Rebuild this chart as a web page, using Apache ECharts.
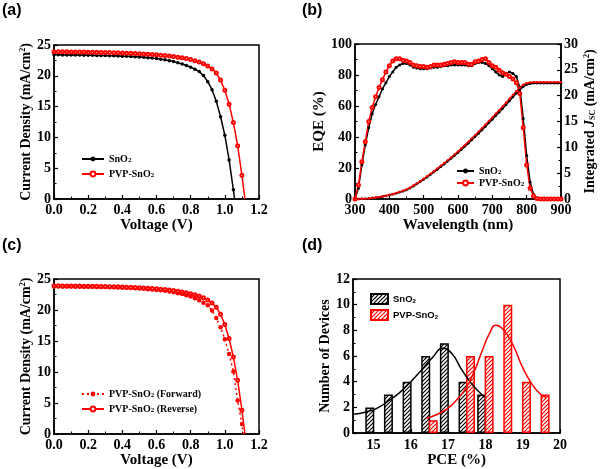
<!DOCTYPE html>
<html><head><meta charset="utf-8">
<script src="https://cdn.jsdelivr.net/npm/echarts@6/dist/echarts.min.js"></script>
<style>html,body{margin:0;padding:0;background:#fff}#c{width:600px;height:469px}</style>
</head><body><div id="c"></div>
<script>
// ---------- (a) / (c) J-V data ----------
const voltage = [0,0.025,0.05,0.075,0.1,0.125,0.15,0.175,0.2,0.225,0.25,0.275,0.3,0.325,0.35,0.375,0.4,0.425,0.45,0.475,0.5,0.525,0.55,0.575,0.6,0.625,0.65,0.675,0.7,0.725,0.75,0.775,0.8,0.825,0.85,0.875,0.9,0.925,0.95,0.975,1.0,1.025,1.05,1.075,1.1];
const jSnO2 = [23.40,23.40,23.39,23.39,23.38,23.37,23.36,23.35,23.34,23.33,23.31,23.30,23.28,23.26,23.24,23.22,23.19,23.16,23.13,23.09,23.05,23.00,22.94,22.87,22.79,22.70,22.59,22.46,22.31,22.13,21.92,21.67,21.40,21.08,20.68,20.05,19.05,17.75,15.85,13.35,10.35,6.35,1.50];
const jPVP = [23.90,23.90,23.89,23.89,23.88,23.87,23.86,23.85,23.84,23.83,23.82,23.80,23.79,23.77,23.75,23.73,23.71,23.68,23.65,23.62,23.59,23.55,23.51,23.46,23.41,23.35,23.29,23.21,23.13,23.03,22.92,22.79,22.64,22.46,22.24,21.96,21.60,21.12,20.45,19.30,17.65,15.40,12.40,8.65,3.85];
const jPVPForward = [23.80,23.80,23.79,23.79,23.78,23.77,23.76,23.75,23.74,23.73,23.72,23.70,23.69,23.67,23.65,23.63,23.60,23.57,23.54,23.50,23.46,23.41,23.36,23.30,23.24,23.17,23.09,22.98,22.85,22.72,22.57,22.39,22.17,21.90,21.57,21.15,20.75,19.90,18.70,17.20,15.30,12.90,10.10,5.40,1.60];
const jPVPReverse = jPVP;
const vocSnO2 = 1.057, vocPVP = 1.118, vocForward = 1.108;

// ---------- (b) EQE data ----------
const wavelength = [300,310,320,330,340,350,360,370,380,390,400,410,420,430,440,450,460,470,480,490,500,510,520,530,540,550,560,570,580,590,600,610,620,630,640,650,660,670,680,690,700,710,720,730,740,750,760,770,780,790,800,810,820,830,840,850,860,870,880,890,900];
const eqeSnO2 = [0,7,22,35,46,55,61,66,71,75,79,82,85,86.5,87.5,87.5,86.5,85,84.5,84,84,84,84.5,85,85,85.5,86,86,86.5,86.5,86.5,86.5,86.5,86,86,87.5,88,88,87.5,86,84,82,80,79,81,82,81,79,72,52,28,11,3,0.5,0,0,0,0,0,0,0];
const eqePVP = [0,9,24,37,50,59,66,72,77,82,86,89,90.5,90.5,89.5,89,88,86.5,86,85.5,85.5,85,85.5,86.5,86.5,86.5,87,87.5,88,88.5,88,88,88,87,87,88.5,89,90,90.5,88,86,85,83,81.5,80.5,79,77.5,75,68,46,22,7,2,0.3,0,0,0,0,0,0,0];
const intSnO2 = [0,0.01,0.03,0.06,0.1,0.17,0.25,0.35,0.47,0.6,0.75,0.91,1.09,1.29,1.51,1.75,2.1,2.48,2.88,3.32,3.76,4.23,4.72,5.21,5.72,6.23,6.76,7.29,7.84,8.4,8.97,9.55,10.15,10.77,11.41,12.05,12.69,13.35,14.03,14.72,15.41,16.1,16.81,17.52,18.25,18.98,19.72,20.45,21.15,21.75,22.15,22.32,22.4,22.42,22.42,22.42,22.42,22.42,22.42,22.42,22.42];
const intPVP = [0,0.01,0.03,0.06,0.11,0.18,0.27,0.38,0.5,0.64,0.8,0.97,1.16,1.37,1.6,1.85,2.2,2.6,3.0,3.45,3.9,4.38,4.88,5.38,5.9,6.42,6.95,7.5,8.05,8.62,9.2,9.8,10.42,11.05,11.7,12.35,13.0,13.68,14.38,15.08,15.78,16.48,17.2,17.92,18.65,19.38,20.12,20.85,21.55,22.1,22.42,22.55,22.6,22.6,22.6,22.6,22.6,22.6,22.6,22.6,22.6];

// ---------- (d) histogram data ----------
const pceSnO2 = [14.9,15.4,15.9,16.4,16.9,17.4,17.9];
const countSnO2 = [2,3,4,6,7,4,3];
const pcePVP = [16.6,17.6,18.1,18.6,19.1,19.6];
const countPVP = [1,6,6,10,4,3];
const fitSnO2X = [14.45,14.8,15.1,15.4,15.7,16.0,16.3,16.6,16.85,17.1,17.35,17.6,17.8,17.98];
const fitSnO2Y = [1.47,1.65,1.95,2.5,3.15,4.0,4.95,5.95,6.6,6.2,5.0,3.95,3.3,2.8];
const fitPVPX = [16.42,16.7,17.0,17.25,17.5,17.7,17.9,18.1,18.28,18.5,18.75,19.0,19.25,19.45,19.64];
const fitPVPY = [1.15,1.45,1.95,2.65,3.6,4.8,6.3,7.7,8.4,8.0,6.8,5.1,3.8,3.1,2.75];
const pceTicks = [15,16,17,18,19,20];

// ---------- helpers ----------
const serif = "'Liberation Serif','Times New Roman',serif";
const sans = "'Liberation Sans',Arial,sans-serif";
const zip = (xs, ys) => ys.map((y, i) => [xs[i], y]);
const RED = '#ff0000', BLACK = '#000000';

function hatch(color){
  const c = document.createElement('canvas'); c.width = 4; c.height = 4;
  const g = c.getContext('2d');
  g.fillStyle = '#fff'; g.fillRect(0,0,4,4);
  g.strokeStyle = color; g.lineWidth = 1.2;
  g.beginPath();
  g.moveTo(-1,5); g.lineTo(5,-1);
  g.moveTo(-1,1); g.lineTo(1,-1);
  g.moveTo(3,5); g.lineTo(5,3);
  g.stroke();
  return c;
}

const tickLab = {color:'#000', fontFamily:serif, fontWeight:'bold', fontSize:14};
const nameStyle = (size) => ({color:'#000', fontFamily:serif, fontWeight:'bold', fontSize:size,
  rich:{
    n:{color:'#000', fontFamily:serif, fontWeight:'bold', fontSize:size},
    i:{color:'#000', fontFamily:serif, fontWeight:'bold', fontStyle:'italic', fontSize:size},
    p:{color:'#000', fontFamily:serif, fontWeight:'bold', fontSize:Math.round(size*0.6), lineHeight:6, verticalAlign:'top'},
    s:{color:'#000', fontFamily:serif, fontWeight:'bold', fontSize:Math.round(size*0.6), lineHeight:4, verticalAlign:'bottom'}
  }});

function axis(o){
  return Object.assign({
    type:'value',
    nameLocation:'middle',
    axisLine:{show:true, onZero:false, lineStyle:{color:'#000', width:1.5}},
    axisTick:{show:true, inside:true, length:4, lineStyle:{color:'#000', width:1.2}},
    minorTick:{show:true, splitNumber:2, length:2.5, lineStyle:{color:'#000', width:1}},
    splitLine:{show:false},
    axisLabel:Object.assign({margin:3}, tickLab),
    nameTextStyle:nameStyle(15)
  }, o);
}

const legendText = (font, size) => ({
  color:'#000', fontFamily:font, fontWeight:'bold', fontSize:size,
  rich:{
    n:{color:'#000', fontFamily:font, fontWeight:'bold', fontSize:size},
    s:{color:'#000', fontFamily:font, fontWeight:'bold', fontSize:Math.round(size*0.65), lineHeight:4, verticalAlign:'bottom'}
  }
});
const legendNames = {
  'SnO2 a':'{n|SnO}{s|2}', 'PVP a':'{n|PVP-SnO}{s|2}',
  'SnO2 b':'{n|SnO}{s|2}', 'PVP b':'{n|PVP-SnO}{s|2}',
  'Fwd c':'{n|PVP-SnO}{s|2}{n| (Forward)}', 'Rev c':'{n|PVP-SnO}{s|2}{n| (Reverse)}',
  'SnO2 d':'{n|SnO}{s|2}', 'PVP d':'{n|PVP-SnO}{s|2}'
};
const fmt = (name) => legendNames[name];

const withVoc = (xs, ys, voc) => zip(xs, ys).concat([{value:[voc,0], symbol:'none'}]);

const gridBox = {show:true, borderColor:'#000', borderWidth:1.5, backgroundColor:'transparent'};
const labelFont = "bold 16px 'Liberation Sans', Arial, sans-serif";

const option = {
  animation:false,
  backgroundColor:'#fff',
  graphic:[
    {type:'text', left:2, top:3, style:{text:'(a)', font:labelFont, fill:'#000'}},
    {type:'text', left:302, top:3, style:{text:'(b)', font:labelFont, fill:'#000'}},
    {type:'text', left:2, top:238, style:{text:'(c)', font:labelFont, fill:'#000'}},
    {type:'text', left:302, top:238, style:{text:'(d)', font:labelFont, fill:'#000'}}
  ],
  grid:[
    Object.assign({left:54, top:45, width:205, height:154}, gridBox),
    Object.assign({left:355, top:44, width:206, height:155}, gridBox),
    Object.assign({left:54, top:279, width:205, height:155}, gridBox),
    Object.assign({left:353, top:279, width:207, height:155}, gridBox)
  ],
  xAxis:[
    axis({gridIndex:0, min:0, max:1.2, interval:0.2, name:'Voltage (V)', nameGap:16,
      axisLabel:Object.assign({margin:4, formatter:v=>v.toFixed(1)}, tickLab)}),
    axis({gridIndex:1, min:300, max:900, interval:100, name:'Wavelength (nm)', nameGap:17,
      axisLabel:Object.assign({margin:4}, tickLab)}),
    axis({gridIndex:2, min:0, max:1.2, interval:0.2, name:'Voltage (V)', nameGap:17,
      axisLabel:Object.assign({margin:4, formatter:v=>v.toFixed(1)}, tickLab)}),
    axis({gridIndex:3, min:14.45, max:20, name:'PCE (%)', nameGap:18,
      axisLabel:Object.assign({margin:5, customValues:pceTicks}, tickLab),
      axisTick:{show:true, inside:true, length:4, customValues:pceTicks, lineStyle:{color:'#000', width:1.2}},
      minorTick:{show:false}})
  ],
  yAxis:[
    axis({gridIndex:0, min:0, max:25, interval:5, name:'{n|Current Density (mA/cm}{p|2}{n|)}', nameGap:19, nameTextStyle:nameStyle(14)}),
    axis({gridIndex:1, min:0, max:100, interval:20, name:'EQE (%)', nameGap:15}),
    axis({gridIndex:1, position:'right', min:0, max:30, interval:5, name:'{n|Integrated }{i|J}{s|SC}{n| (mA/cm}{p|2}{n|)}', nameGap:22, nameTextStyle:nameStyle(14)}),
    axis({gridIndex:2, min:0, max:25, interval:5, name:'{n|Current Density (mA/cm}{p|2}{n|)}', nameGap:19, nameTextStyle:nameStyle(14)}),
    axis({gridIndex:3, min:0, max:12, interval:2, name:'Number of Devices', nameGap:18, nameTextStyle:nameStyle(14)})
  ],
  legend:[
    {left:76, top:149, orient:'vertical', itemWidth:22, itemHeight:6, itemGap:5, selectedMode:false,
      data:['SnO2 a','PVP a'], formatter:fmt, textStyle:legendText(serif, 10)},
    {left:451, top:161, orient:'vertical', itemWidth:17, itemHeight:6, itemGap:2, selectedMode:false,
      data:['SnO2 b','PVP b'], formatter:fmt, textStyle:legendText(serif, 10)},
    {left:76, top:384, orient:'vertical', itemWidth:22, itemHeight:6, itemGap:5, selectedMode:false,
      data:['Fwd c','Rev c'], formatter:fmt, textStyle:legendText(serif, 10)},
    {left:365, top:288, orient:'vertical', itemWidth:17, itemHeight:10, itemGap:4, selectedMode:false, icon:'rect',
      data:['SnO2 d','PVP d'], formatter:fmt, textStyle:legendText(sans, 9.5)}
  ],
  series:[
    // (a)
    {name:'SnO2 a', type:'line', xAxisIndex:0, yAxisIndex:0, data:withVoc(voltage, jSnO2, vocSnO2),
      symbol:'circle', symbolSize:3.5, showAllSymbol:true, lineStyle:{color:BLACK, width:1.5}, itemStyle:{color:BLACK}},
    {name:'PVP a', type:'line', xAxisIndex:0, yAxisIndex:0, data:withVoc(voltage, jPVP, vocPVP),
      symbol:'emptyCircle', symbolSize:3, showAllSymbol:true, lineStyle:{color:RED, width:1.5}, itemStyle:{color:RED, borderWidth:1}},
    // (b)
    {name:'SnO2 b', type:'line', xAxisIndex:1, yAxisIndex:1, data:zip(wavelength, eqeSnO2),
      symbol:'circle', symbolSize:3, showAllSymbol:true, lineStyle:{color:BLACK, width:1.5}, itemStyle:{color:BLACK}},
    {name:'PVP b', type:'line', xAxisIndex:1, yAxisIndex:1, data:zip(wavelength, eqePVP),
      symbol:'emptyCircle', symbolSize:3, showAllSymbol:true, lineStyle:{color:RED, width:1.5}, itemStyle:{color:RED, borderWidth:1}},
    {name:'SnO2 int', type:'line', xAxisIndex:1, yAxisIndex:2, data:zip(wavelength, intSnO2),
      symbol:'circle', symbolSize:2.5, showAllSymbol:true, lineStyle:{color:BLACK, width:1.5}, itemStyle:{color:BLACK}},
    {name:'PVP int', type:'line', xAxisIndex:1, yAxisIndex:2, data:zip(wavelength, intPVP),
      symbol:'circle', symbolSize:2.5, showAllSymbol:true, lineStyle:{color:RED, width:1.5}, itemStyle:{color:RED}},
    // (c)
    {name:'Fwd c', type:'line', xAxisIndex:2, yAxisIndex:3, data:withVoc(voltage, jPVPForward, vocForward),
      symbol:'circle', symbolSize:4.5, showAllSymbol:true, lineStyle:{color:RED, width:1.5, type:[2,3]}, itemStyle:{color:RED}},
    {name:'Rev c', type:'line', xAxisIndex:2, yAxisIndex:3, data:withVoc(voltage, jPVPReverse, vocPVP),
      symbol:'emptyCircle', symbolSize:3, showAllSymbol:true, lineStyle:{color:RED, width:1.5}, itemStyle:{color:RED, borderWidth:1}},
    // (d)
    {name:'SnO2 d', type:'bar', xAxisIndex:3, yAxisIndex:4, data:zip(pceSnO2, countSnO2), barWidth:9, barGap:'-100%',
      itemStyle:{color:{image:hatch(BLACK), repeat:'repeat'}, borderColor:BLACK, borderWidth:1.5}},
    {name:'PVP d', type:'bar', xAxisIndex:3, yAxisIndex:4, data:zip(pcePVP, countPVP), barWidth:9, barGap:'-100%',
      itemStyle:{color:{image:hatch(RED), repeat:'repeat'}, borderColor:RED, borderWidth:1.5}},
    {name:'SnO2 fit', type:'line', xAxisIndex:3, yAxisIndex:4, data:zip(fitSnO2X, fitSnO2Y), smooth:true,
      symbol:'none', lineStyle:{color:BLACK, width:1.5}, z:5},
    {name:'PVP fit', type:'line', xAxisIndex:3, yAxisIndex:4, data:zip(fitPVPX, fitPVPY), smooth:true,
      symbol:'none', lineStyle:{color:RED, width:1.5}, z:5}
  ]
};
const chart = echarts.init(document.getElementById('c'), null, {renderer:'canvas'});
chart.setOption(option);
</script></body></html>
